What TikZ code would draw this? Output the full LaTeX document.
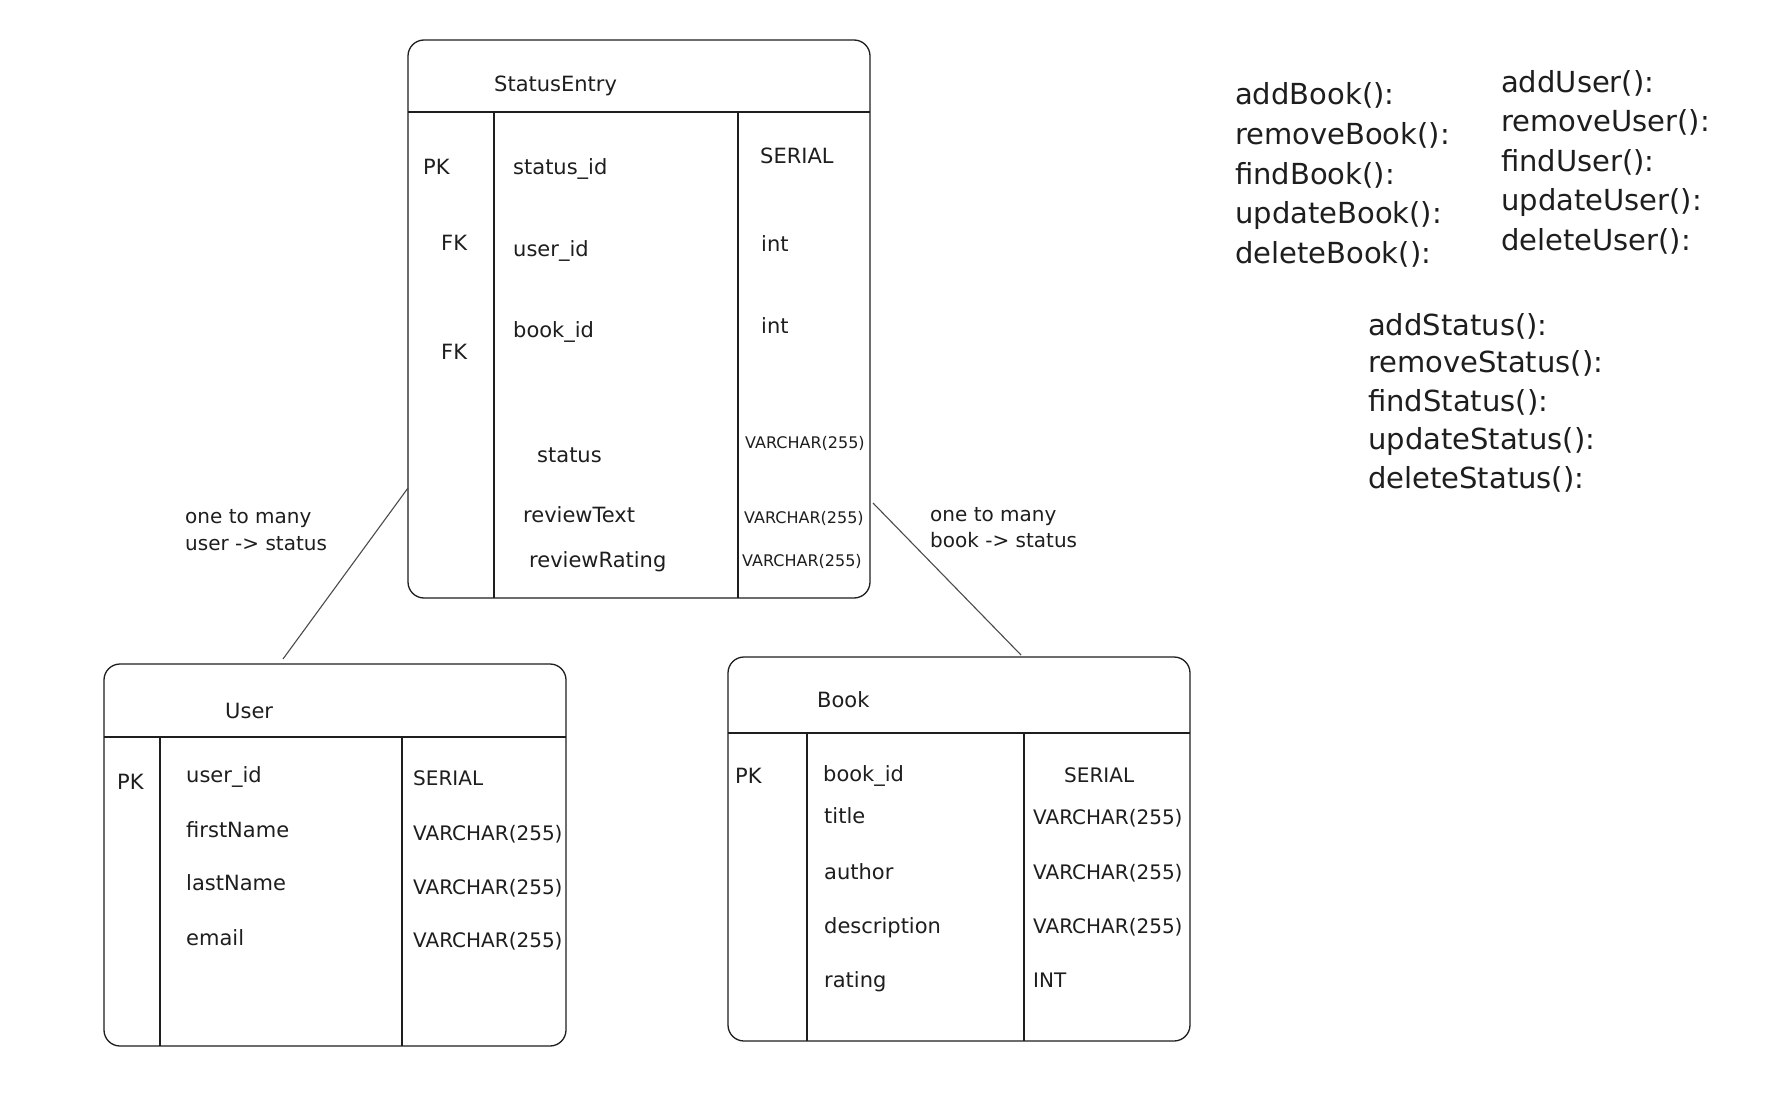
\documentclass[tikz,border=0pt]{standalone}
\usepackage{fontspec}
\setmainfont{DejaVu Sans}
\definecolor{ink}{HTML}{1E1E1E}
\tikzset{
  tbl/.style={draw=ink, line width=1.3pt, rounded corners=16pt, inner sep=0pt, outer sep=0pt, anchor=north west},
  ln/.style={draw=ink, line width=1.3pt},
  conn/.style={draw=ink!80, line width=1.1pt},
  txt/.style={anchor=west, inner sep=0pt, text=ink, text height=0.75em, text depth=0.25em},
  fld/.style={txt, yshift=-6pt, font=\fontsize{21}{24}\selectfont},
  typ/.style={txt, yshift=-6pt, font=\fontsize{20}{24}\selectfont},
  sml/.style={txt, yshift=-6pt, font=\fontsize{16}{19}\selectfont},
  lbl/.style={txt, yshift=-6pt, font=\fontsize{20}{23}\selectfont},
  mth/.style={txt, yshift=-8pt, font=\fontsize{29}{33}\selectfont},
}
\begin{document}
\begin{tikzpicture}[x=1pt,y=-1pt]
\useasboundingbox[fill=white] (0,0) rectangle (1792,1102);

% ---------- StatusEntry ----------
\node[tbl, minimum width=462pt, minimum height=558pt] (se) at (408,40) {};
\draw[ln] (408,112) -- (870,112);
\draw[ln] (494,112) -- (494,598);
\draw[ln] (738,112) -- (738,598);
\node[fld] (seT) at (494,83) {StatusEntry};
\node[fld] (sePK) at (423,166) {PK};
\node[fld] (seF1) at (513,166) {status\_id};
\node[fld] (seY1) at (760,155) {SERIAL};
\node[fld] (seFK1) at (441,242) {FK};
\node[fld] (seF2) at (513,248) {user\_id};
\node[fld] (seY2) at (761,243) {int};
\node[fld] (seF3) at (513,329) {book\_id};
\node[fld] (seY3) at (761,325) {int};
\node[fld] (seFK2) at (441,351) {FK};
\node[fld] (seF4) at (537,454) {status};
\node[sml] (seY4) at (745,440) {VARCHAR(255)};
\node[fld] (seF5) at (523,514) {reviewText};
\node[sml] (seY5) at (744,515) {VARCHAR(255)};
\node[fld] (seF6) at (529,559) {reviewRating};
\node[sml] (seY6) at (742,558) {VARCHAR(255)};

% ---------- User ----------
\node[tbl, minimum width=462pt, minimum height=382pt] (us) at (104,664) {};
\draw[ln] (104,737) -- (566,737);
\draw[ln] (160,737) -- (160,1046);
\draw[ln] (402,737) -- (402,1046);
\node[fld] (usT) at (225,710) {User};
\node[fld] (usPK) at (117,781) {PK};
\node[fld] (usF1) at (186,774) {user\_id};
\node[typ] (usY1) at (413,777) {SERIAL};
\node[fld] (usF2) at (186,829) {firstName};
\node[typ] (usY2) at (413,832) {VARCHAR(255)};
\node[fld] (usF3) at (186,882) {lastName};
\node[typ] (usY3) at (413,886) {VARCHAR(255)};
\node[fld] (usF4) at (186,937) {email};
\node[typ] (usY4) at (413,939) {VARCHAR(255)};

% ---------- Book ----------
\node[tbl, minimum width=462pt, minimum height=384pt] (bk) at (728,657) {};
\draw[ln] (728,733) -- (1190,733);
\draw[ln] (807,733) -- (807,1041);
\draw[ln] (1024,733) -- (1024,1041);
\node[fld] (bkT) at (817,699) {Book};
\node[fld] (bkPK) at (735,775) {PK};
\node[fld] (bkF1) at (823,773) {book\_id};
\node[typ] (bkY1) at (1064,774) {SERIAL};
\node[fld] (bkF2) at (824,815) {title};
\node[typ] (bkY2) at (1033,816) {VARCHAR(255)};
\node[fld] (bkF3) at (824,871) {author};
\node[typ] (bkY3) at (1033,871) {VARCHAR(255)};
\node[fld] (bkF4) at (824,925) {description};
\node[typ] (bkY4) at (1033,925) {VARCHAR(255)};
\node[fld] (bkF5) at (824,979) {rating};
\node[typ] (bkY5) at (1033,979) {INT};

% ---------- connectors ----------
\coordinate (cL1) at (408,488);
\coordinate (cL2) at (283,659);
\coordinate (cR1) at (873,503);
\coordinate (cR2) at (1021,655);
\draw[conn] (cL1) -- (cL2);
\draw[conn] (cR1) -- (cR2);
\node[lbl] (l1a) at (185,515) {one to many};
\node[lbl] (l1b) at (185,542) {user -> status};
\node[lbl] (l2a) at (930,513) {one to many};
\node[lbl] (l2b) at (930,539) {book -> status};

% ---------- methods ----------
\node[mth] (mb1) at (1235,94) {addBook():};
\node[mth] (mb2) at (1235,134) {removeBook():};
\node[mth] (mb3) at (1235,174) {findBook():};
\node[mth] (mb4) at (1235,213) {updateBook():};
\node[mth] (mb5) at (1235,253) {deleteBook():};
\node[mth] (mu1) at (1501,82) {addUser():};
\node[mth] (mu2) at (1501,121) {removeUser():};
\node[mth] (mu3) at (1501,161) {findUser():};
\node[mth] (mu4) at (1501,200) {updateUser():};
\node[mth] (mu5) at (1501,240) {deleteUser():};
\node[mth] (ms1) at (1368,325) {addStatus():};
\node[mth] (ms2) at (1368,362) {removeStatus():};
\node[mth] (ms3) at (1368,401) {findStatus():};
\node[mth] (ms4) at (1368,439) {updateStatus():};
\node[mth] (ms5) at (1368,478) {deleteStatus():};
\end{tikzpicture}
\end{document}
